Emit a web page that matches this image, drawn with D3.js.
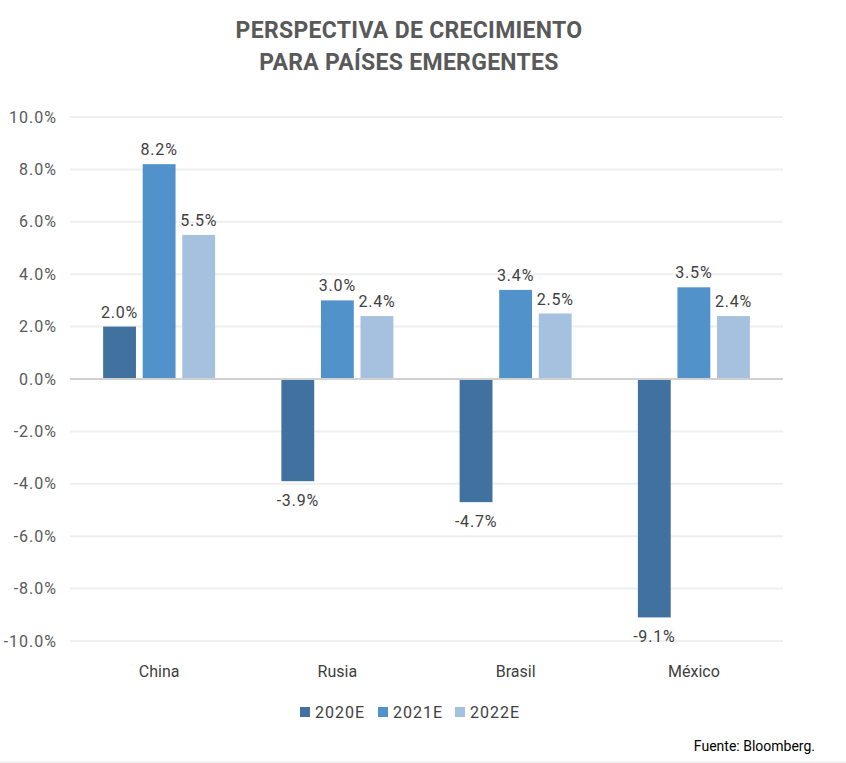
<!DOCTYPE html>
<html><head><meta charset="utf-8">
<script src="https://cdn.jsdelivr.net/npm/d3@7"></script>
<style>body{margin:0;background:#fff;} svg{display:block;font-family:Roboto, "Noto Sans", sans-serif;}</style>
</head><body><svg id="c" width="846" height="763"></svg>
<script>
const categories = ["China", "Rusia", "Brasil", "México"];
const seriesNames = ["2020E", "2021E", "2022E"];
const values2020 = [2.0, -3.9, -4.7, -9.1];
const values2021 = [8.2, 3.0, 3.4, 3.5];
const values2022 = [5.5, 2.4, 2.5, 2.4];
const yTicks = [-10, -8, -6, -4, -2, 0, 2, 4, 6, 8, 10];
const colors = ["#41729f", "#5292cb", "#a6c0df"];
const titleLines = ["PERSPECTIVA DE CRECIMIENTO", "PARA PAÍSES EMERGENTES"];
const source = "Fuente: Bloomberg.";

const pct = v => d3.format(".1f")(v).replace("−", "-") + "%";
const series = [values2020, values2021, values2022];
const svg = d3.select("#c");
const x0 = d3.scaleBand().domain(categories).range([70, 783]);
const x1 = d3.scaleBand().domain(seriesNames).range([x0.bandwidth()/2 - 56, x0.bandwidth()/2 + 56]).paddingInner(0.17);
const y = d3.scaleLinear().domain([-10, 10]).range([641, 117]);

svg.append("g").selectAll("text").data(titleLines).join("text")
  .attr("x", 409).attr("y", (d,i)=>38 + i*32).attr("text-anchor","middle")
  .attr("font-size", 23).attr("font-weight", "bold").attr("fill", "#595959").attr("letter-spacing", "0.3").text(d=>d);

// gridlines
svg.append("g").selectAll("line").data(yTicks.filter(t=>t!==0)).join("line")
  .attr("x1", 70).attr("x2", 783).attr("y1", d=>y(d)).attr("y2", d=>y(d))
  .attr("stroke", "#efefef").attr("stroke-width", 2);

const yAxis = svg.append("g").attr("transform","translate(70,0)")
  .call(d3.axisLeft(y).tickValues(yTicks).tickSize(0).tickPadding(13).tickFormat(pct));
yAxis.select(".domain").remove();
yAxis.selectAll("text").attr("font-size", 16).attr("fill", "#595959").attr("font-family","Roboto, sans-serif").attr("letter-spacing", "1");

// bars
const groups = svg.append("g").selectAll("g").data(categories).join("g")
  .attr("transform", d=>`translate(${x0(d)},0)`);
groups.selectAll("rect").data((c,ci)=>seriesNames.map((s,si)=>({s, si, v: series[si][ci]}))).join("rect")
  .attr("x", d=>x1(d.s)).attr("width", x1.bandwidth())
  .attr("y", d=>y(Math.max(0,d.v))).attr("height", d=>Math.abs(y(d.v)-y(0)))
  .attr("fill", d=>colors[d.si]);
groups.selectAll("text").data((c,ci)=>seriesNames.map((s,si)=>({s, si, v: series[si][ci]}))).join("text")
  .attr("x", d=>x1(d.s)+x1.bandwidth()/2)
  .attr("y", d=> d.v>=0 ? y(d.v)-9 : y(d.v)+25)
  .attr("text-anchor","middle").attr("font-size", 16).attr("fill","#404040").attr("letter-spacing", "0.8")
  .text(d=>pct(d.v));

// zero line
svg.append("line").attr("x1",70).attr("x2",783).attr("y1",y(0)).attr("y2",y(0))
  .attr("stroke","#d0d0d0").attr("stroke-width",2);

// category labels
const xAxis = svg.append("g").attr("transform","translate(0,641)")
  .call(d3.axisBottom(x0).tickSize(0).tickPadding(25));
xAxis.select(".domain").remove();
xAxis.selectAll("text").attr("font-size", 16).attr("fill","#404040").attr("font-family","Roboto, sans-serif");

// legend
const legX = [300, 378, 455];
const leg = svg.append("g").selectAll("g").data(seriesNames).join("g")
  .attr("transform",(d,i)=>`translate(${legX[i]},708)`);
leg.append("rect").attr("width",10).attr("height",10).attr("y",-1).attr("fill",(d,i)=>colors[i]);
leg.append("text").attr("x",15).attr("y",10).attr("font-size",16).attr("fill","#404040").attr("letter-spacing","1").text(d=>d);

svg.append("text").attr("x",815).attr("y",751).attr("text-anchor","end").attr("font-size",14).attr("fill","#000").text(source);
svg.append("line").attr("x1",0).attr("x2",846).attr("y1",762).attr("y2",762).attr("stroke","#e6e6e6").attr("stroke-width",1);
</script></body></html>
